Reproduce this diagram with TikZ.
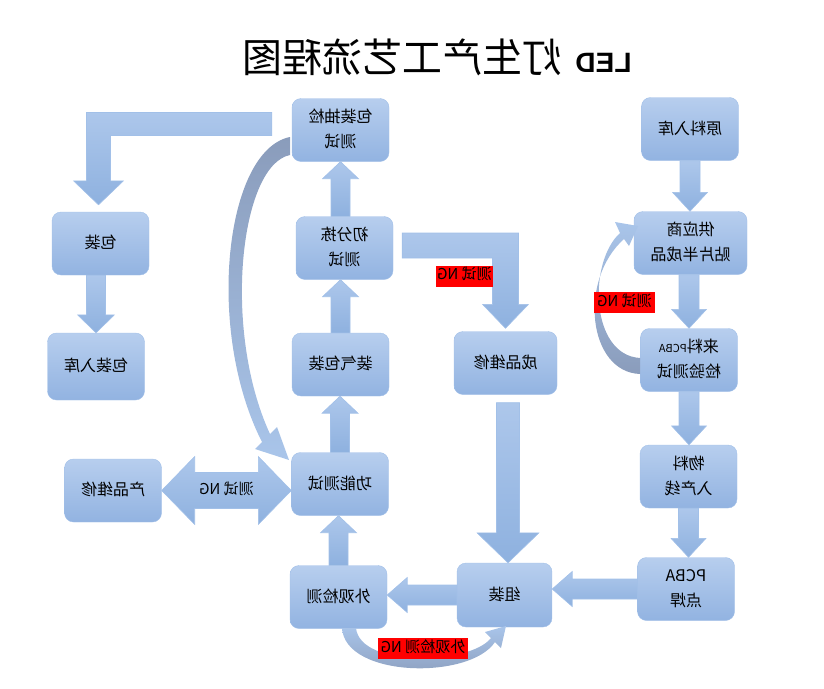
\documentclass[tikz,border=0pt]{standalone}
\usepackage{fontspec}
\setmainfont{Noto Sans CJK SC}
\newfontfamily\ledfont{Liberation Sans}
\usepackage{graphicx}
\usetikzlibrary{calc}

\definecolor{boxtop}{HTML}{B7CEEE}
\definecolor{boxbot}{HTML}{92B3E1}
\definecolor{boxline}{HTML}{A2C0E8}
\definecolor{arrtop}{HTML}{ADC7EB}
\definecolor{arrbot}{HTML}{8EB1DF}
\definecolor{curvedark}{HTML}{8A9CBB}
\definecolor{curvelight}{HTML}{A9C5EA}

% mirrored text, as the chart prints it
\newcommand{\flip}[1]{\scalebox{-1}[1]{\begin{tabular}{@{}c@{}}#1\end{tabular}}}
% block arrow: shaft half width, head half width, head length, from, to
\newcommand{\blockarrow}[5]{%
  \coordinate (ba-h) at ($(#5)!#3!(#4)$);
  \path[barrow] ($(#4)!#1!90:(#5)$) -- ($(ba-h)!#1!-90:(#4)$) -- ($(ba-h)!#2!-90:(#4)$) -- (#5)
    -- ($(ba-h)!#2!90:(#4)$) -- ($(ba-h)!#1!90:(#4)$) -- ($(#4)!#1!-90:(#5)$) -- cycle;}

\begin{document}
\begin{tikzpicture}[x=1pt,y=-1pt,
  box/.style={rectangle,rounded corners=9pt,draw=boxline,top color=boxtop,bottom color=boxbot,
    minimum width=97pt,minimum height=63pt,inner sep=2pt,font=\fontsize{16}{25}\selectfont},
  barrow/.style={top color=arrtop,bottom color=arrbot,draw=boxline,line width=0.6pt},
  curvearrow/.style={draw=none},
  nglabel/.style={fill=red,inner sep=1pt,minimum height=21pt,font=\fontsize{15}{17}\selectfont}]
\useasboundingbox (0,0) rectangle (824,688);

% title
\node (title) at (437,57) {\scalebox{-1}[1]{{\ledfont\bfseries\fontsize{28}{30}\selectfont LED}\hspace{13pt}{\fontsize{40}{44}\selectfont 灯生产工艺流程图}}};

% boxes
\node[box] (bzcj) at (340.5,130) {\flip{包装抽检\\测试}};
\node[box] (cfj) at (344.5,248) {\flip{初分拣\\测试}};
\node[box] (zqbz) at (340.5,364.5) {\flip{装气包装}};
\node[box] (gncs) at (340,484) {\flip{功能测试}};
\node[box] (wgjc) at (338.5,597) {\flip{外观检测}};
\node[box,minimum width=95pt,minimum height=64pt] (zz) at (504.5,595) {\flip{组装}};
\node[box] (djh) at (686,589) {\flip{PCBA\\点焊}};
\node[box] (wl) at (688.5,476.5) {\flip{物料\\入产线}};
\node[box] (llj) at (689,360) {\flip{来料{\fontsize{11}{12}\selectfont PCBA}\\检验测试}};
\node[box,minimum width=113pt] (gys) at (690.5,243) {\flip{供应商\\贴片半成品}};
\node[box] (ylrk) at (690,129) {\flip{原料入库}};
\node[box,minimum width=103pt] (cpwx) at (505.5,363) {\flip{成品维修}};
\node[box] (chwx) at (113,490.5) {\flip{产品维修}};
\node[box] (bz) at (100.5,243.5) {\flip{包装}};
\node[box,minimum height=67pt] (bzrk) at (96,366.5) {\flip{包装入库}};

% straight arrows
\blockarrow{9.5pt}{18pt}{17pt}{bzcj.south |- cfj.north}{bzcj.south}
\blockarrow{9.5pt}{18pt}{17pt}{zqbz.north}{zqbz.north |- cfj.south}
\blockarrow{9.5pt}{18pt}{17pt}{gncs.north}{gncs.north |- zqbz.south}
\blockarrow{9.5pt}{18pt}{17pt}{wgjc.north}{wgjc.north |- gncs.south}
\blockarrow{10pt}{17.5pt}{19pt}{ylrk.south}{ylrk.south |- gys.north}
\blockarrow{10pt}{17.5pt}{19pt}{llj.north |- gys.south}{llj.north}
\blockarrow{10pt}{17.5pt}{19pt}{llj.south}{llj.south |- wl.north}
\blockarrow{10pt}{17.5pt}{19pt}{wl.south}{wl.south |- djh.north}
\blockarrow{9.5pt}{18.5pt}{18pt}{bzrk.north |- bz.south}{bzrk.north}
\blockarrow{10pt}{17.5pt}{20pt}{zz.west}{zz.west -| wgjc.east}
\blockarrow{10pt}{17.5pt}{20pt}{djh.west}{djh.west -| zz.east}
\coordinate (cp1) at ($(cpwx.south)+(2.5,8)$);
\blockarrow{11.5pt}{31pt}{30pt}{cp1}{cp1 |- zz.north}

% two-way arrow to repair
\coordinate (dl) at (chwx.east);
\coordinate (dr) at (gncs.west |- chwx.east);
\path[barrow] (dl) -- ($(dl)+(33,-34)$) -- ($(dl)+(33,-18)$) -- ($(dr)+(-33,-18)$) -- ($(dr)+(-33,-34)$) -- (dr)
  -- ($(dr)+(-33,34)$) -- ($(dr)+(-33,18)$) -- ($(dl)+(33,18)$) -- ($(dl)+(33,34)$) -- cycle;
\node[font=\fontsize{15}{17}\selectfont] (ngt) at ($(dl)!0.5!(dr)$) {\flip{测试 NG}};

% bent arrows
\coordinate (la) at ($(bzcj.west)+(-20,-6)$);
\coordinate (lb) at ($(bz.north)+(-2,-7)$);
\path[barrow] ($(la)+(0,-11.5)$) -| ($(lb)+(-12,-24)$) -- ($(lb)+(-25,-24)$) -- (lb) -- ($(lb)+(25,-24)$)
  -- ($(lb)+(12,-24)$) |- ($(la)+(0,11.5)$) -- cycle;
\coordinate (ra) at ($(cfj.east)+(9,-2.5)$);
\coordinate (rb) at ($(cpwx.north)+(0,-3)$);
\path[barrow] ($(ra)+(0,-12.5)$) -| ($(rb)+(13,-24)$) -- ($(rb)+(23,-24)$) -- (rb) -- ($(rb)+(-23,-24)$)
  -- ($(rb)+(-13,-24)$) |- ($(ra)+(0,12.5)$) -- cycle;

% curved arrows
\path[curvearrow,top color=curvedark,bottom color=curvelight]
  (290,137) .. controls (225,150) and (205,330) .. (262,442) -- (255,449) -- (289,460) -- (277,427)
  -- (270,434) .. controls (222,330) and (240,165) .. (290,155) -- cycle;
\path[curvearrow,top color=curvelight,bottom color=curvedark]
  (640,374) .. controls (588,372) and (578,280) .. (624,239) -- (629,246) -- (638,226) -- (615,222)
  -- (620,233) .. controls (588,262) and (590,355) .. (640,358) -- cycle;
\path[curvearrow,top color=curvelight,bottom color=curvedark]
  (342,628) .. controls (345,678) and (470,680) .. (495,642) -- (501,648) -- (506,626) -- (485,632)
  -- (491,638) .. controls (470,665) and (360,668) .. (356,628) -- cycle;

% NG labels
\node[nglabel,minimum width=57pt] (ng1) at (464.5,276) {\flip{测试 NG}};
\node[nglabel,minimum width=61pt] (ng2) at (624.5,302.5) {\flip{测试 NG}};
\node[nglabel,minimum width=90pt] (ng3) at (423,648.5) {\flip{外观检测 NG}};
\end{tikzpicture}
\end{document}
